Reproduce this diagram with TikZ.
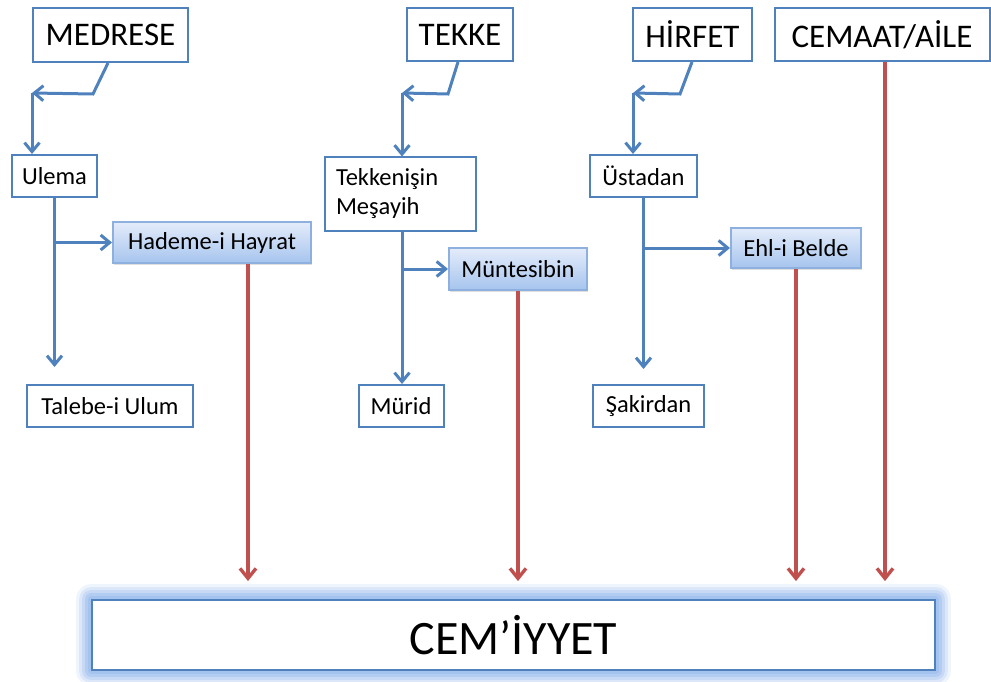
\documentclass[tikz,border=0pt]{standalone}
\usepackage{fontspec}
\setmainfont{Carlito}
\usepackage{tikz}
\usetikzlibrary{arrows.meta}
\usetikzlibrary{shadows}
\usetikzlibrary{backgrounds}

\definecolor{officeblue}{RGB}{79,129,189}
\definecolor{officered}{RGB}{192,80,77}
\definecolor{lightedge}{RGB}{141,176,222}
\definecolor{gradtop}{RGB}{228,236,250}
\definecolor{gradbot}{RGB}{166,196,238}
\definecolor{glowblue}{RGB}{150,185,236}

\begin{document}
\begin{tikzpicture}[x=1pt,y=-1pt,
        box/.style={draw=officeblue,line width=2pt,fill=white,inner sep=0pt},
        headbox/.style={box,font=\fontsize{33}{36}\selectfont},
        subbox/.style={box,font=\fontsize{24.5}{29}\selectfont},
        gradbox/.style={subbox,draw=lightedge,top color=gradtop,bottom color=gradbot,
            drop shadow={opacity=0.25,shadow xshift=1.2pt,shadow yshift=-1.8pt}},
        blueline/.style={draw=officeblue,line width=3pt,-{Straight Barb[length=9pt,width=15pt]}},
        redline/.style={draw=officered,line width=3.4pt,-{Straight Barb[length=10pt,width=16pt]}}]
        \useasboundingbox (0,0) rectangle (991,682);

        % Top row
        \node [headbox,minimum width=155pt,minimum height=54pt] (medrese) at (110.5,35) {MEDRESE};
        \node [headbox,minimum width=106pt,minimum height=53pt] (tekke) at (460,34.5) {TEKKE};
        \node [headbox,minimum width=119pt,minimum height=53pt] (hirfet) at (692.5,34.5) {HİRFET};
        \node [headbox,minimum width=215pt,minimum height=53pt] (cemaat) at (882,34.5) {CEMAAT/AİLE};

        % Medrese branch
        \node [subbox,minimum width=85pt,minimum height=42pt] (ulema) at (54.5,176) {Ulema};
        \node [gradbox,minimum width=198pt,minimum height=41pt] (hademe) at (212,242.5) {Hademe-i Hayrat};
        \node [subbox,minimum width=166pt,minimum height=42pt] (talebe) at (110,406) {Talebe-i Ulum};
        \coordinate (medj) at (32,93);
        \coordinate (taltop) at ([yshift=17pt]talebe.north);
        \draw [blueline] ([xshift=-2.5pt]medrese.south) -- ++(-15,31) -- (medj);
        \draw [blueline] (medj) -- (medj |- ulema.north);
        \draw [blueline] (ulema.south) -- (ulema.south |- taltop);
        \draw [blueline] (ulema.south |- hademe.west) -- (hademe.west);

        % Tekke branch
        \node [subbox,minimum width=151pt,minimum height=73pt,text width=129pt,
            inner xsep=11pt,align=left] (tekkenisin) at (400.5,194) {Tekkenişin\\Meşayih};
        \node [gradbox,minimum width=138pt,minimum height=42pt] (muntesibin) at (518,269) {Müntesibin};
        \node [subbox,minimum width=85pt,minimum height=42pt] (murid) at (401,406) {Mürid};
        \coordinate (tekj) at (402,93);
        \draw [blueline] ([xshift=-2pt]tekke.south) -- ++(-10,32) -- (tekj);
        \draw [blueline] (tekj) -- (tekj |- tekkenisin.north);
        \draw [blueline] ([xshift=1.5pt]tekkenisin.south) -- ([xshift=1.5pt]tekkenisin.south |- murid.north);
        \draw [blueline] ([xshift=1.5pt]tekkenisin.south |- muntesibin.west) -- (muntesibin.west);

        % Hirfet branch
        \node [subbox,minimum width=107pt,minimum height=42pt] (ustadan) at (643.5,176) {Üstadan};
        \node [gradbox,minimum width=130pt,minimum height=40pt] (ehl) at (796,248) {Ehl-i Belde};
        \node [subbox,minimum width=111pt,minimum height=42pt] (sakirdan) at (648.5,406) {Şakirdan};
        \coordinate (hirj) at (633,93);
        \coordinate (saktop) at ([yshift=15pt]sakirdan.north);
        \draw [blueline] ([xshift=-0.5pt]hirfet.south) -- ++(-12,32) -- (hirj);
        \draw [blueline] (hirj) -- (hirj |- ustadan.north);
        \draw [blueline] (ustadan.south) -- (ustadan.south |- saktop);
        \draw [blueline] (ustadan.south |- ehl.west) -- (ehl.west);

        % Cem'iyyet
        \node [box,draw=officeblue,line width=1.8pt,minimum width=843pt,minimum height=70pt,
            font=\fontsize{48}{52}\selectfont] (cemiyyet) at (513.5,635) {CEM’İYYET};
        \begin{scope}[on background layer]
            \foreach \r/\op in {15/0.15,12/0.22,9/0.3,6/0.4,3/0.5}
                \fill [glowblue,opacity=\op,rounded corners=\r pt]
                    ([shift={(-\r pt,-\r pt)}]cemiyyet.south west) rectangle
                    ([shift={(\r pt,\r pt)}]cemiyyet.north east);
        \end{scope}
        \coordinate (cemtop) at ([yshift=18pt]cemiyyet.north);
        \draw [redline] ([xshift=36pt]hademe.south) -- ([xshift=36pt]hademe.south |- cemtop);
        \draw [redline] (muntesibin.south) -- (muntesibin.south |- cemtop);
        \draw [redline] (ehl.south) -- (ehl.south |- cemtop);
        \draw [redline] ([xshift=3pt]cemaat.south) -- ([xshift=3pt]cemaat.south |- cemtop);

    \end{tikzpicture}
\end{document}
